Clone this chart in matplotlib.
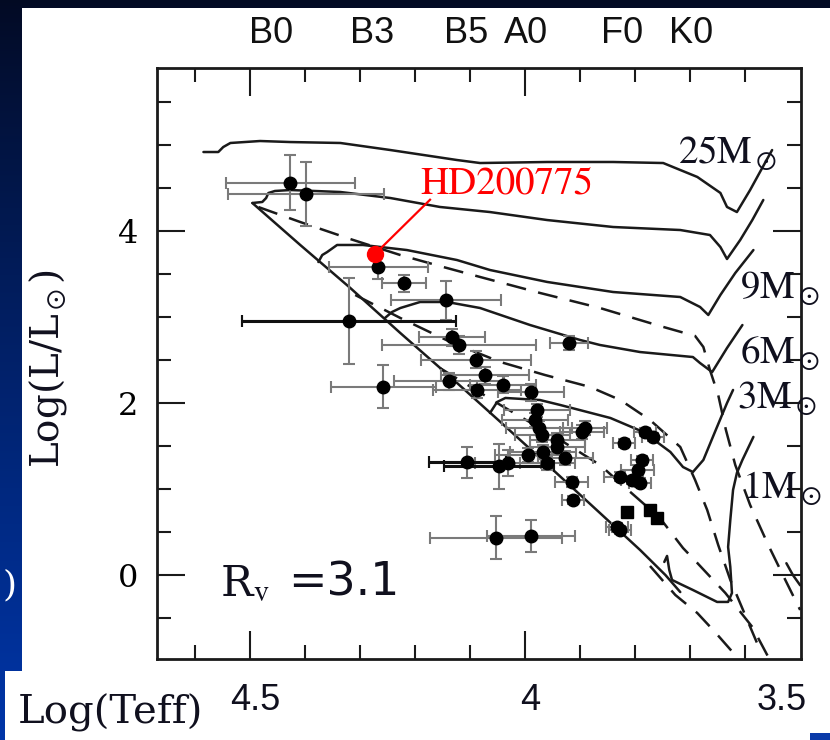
import numpy as np
import matplotlib
matplotlib.use("Agg")
import matplotlib.pyplot as plt
from matplotlib import font_manager
from matplotlib.patches import Rectangle
from matplotlib.transforms import blended_transform_factory

plt.rcParams['mathtext.fontset'] = 'stix'

# spectral types along the top axis (log Teff)
spec_types = ['B0', 'B3', 'B5', 'A0', 'F0', 'K0']
spec_logT = [4.462, 4.278, 4.107, 3.998, 3.824, 3.698]

# pre-main-sequence tracks (log Teff, log L/Lsun)
t25_T = [4.585, 4.558, 4.549, 4.536, 4.482, 4.427, 4.336, 4.245, 4.124, 4.082,
         3.960, 3.840, 3.749, 3.687, 3.645, 3.633, 3.615, 3.591, 3.573, 3.551]
t25_L = [4.915, 4.915, 4.973, 5.020, 5.043, 5.031, 5.020, 4.938, 4.822, 4.787,
         4.799, 4.799, 4.787, 4.625, 4.439, 4.276, 4.217, 4.473, 4.683, 4.938]
t15_T = [4.496, 4.478, 4.471, 4.467, 4.455, 4.427, 4.336, 4.245, 4.155, 4.064,
         3.960, 3.840, 3.718, 3.664, 3.645, 3.633, 3.609, 3.587, 3.567]
t15_L = [4.322, 4.334, 4.380, 4.438, 4.462, 4.473, 4.450, 4.380, 4.276, 4.217,
         4.124, 4.043, 4.008, 3.950, 3.810, 3.671, 3.892, 4.124, 4.357]
t9_T = [4.376, 4.369, 4.360, 4.342, 4.295, 4.215, 4.124, 4.064, 3.960, 3.840,
        3.718, 3.682, 3.667, 3.645, 3.618, 3.585]
t9_L = [3.636, 3.717, 3.752, 3.834, 3.834, 3.775, 3.659, 3.543, 3.404, 3.287,
        3.229, 3.113, 3.020, 3.253, 3.508, 3.775]
t6_T = [4.255, 4.242, 4.227, 4.191, 4.142, 4.082, 3.991, 3.900, 3.864, 3.791,
        3.695, 3.682, 3.660, 3.633, 3.605]
t6_L = [2.985, 3.055, 3.101, 3.171, 3.171, 3.101, 2.903, 2.729, 2.671, 2.589,
        2.531, 2.461, 2.356, 2.636, 2.903]
t3_T = [4.064, 4.051, 4.036, 3.973, 3.936, 3.845, 3.785, 3.736, 3.713, 3.695,
        3.676, 3.655, 3.633, 3.622]
t3_L = [1.880, 2.008, 2.055, 2.031, 1.973, 1.822, 1.659, 1.427, 1.252, 1.194,
        1.334, 1.659, 1.996, 2.148]
t1_T = [3.747, 3.742, 3.738, 3.733, 3.718, 3.695, 3.651, 3.631, 3.624, 3.627,
        3.631, 3.627, 3.622, 3.615, 3.605, 3.585]
t1_L = [0.148, 0.218, 0.055, -0.061, -0.108, -0.178, -0.317, -0.317, -0.213, 0.090,
        0.322, 0.636, 0.985, 1.183, 1.334, 1.602]
tlow_T = [3.525, 3.513, 3.500]
tlow_L = [0.133, -0.006, -0.123]

# zero age main sequence
zams_T = [4.496, 4.409, 4.318, 4.227, 4.136, 4.045, 3.955, 3.864, 3.791, 3.745, 3.718]
zams_L = [4.322, 3.834, 3.334, 2.810, 2.299, 1.776, 1.252, 0.717, 0.287, -0.004, -0.202]

# isochrones (dashed)
iso1_T = [4.485, 4.409, 4.318, 4.227, 4.149, 4.082, 3.973, 3.864, 3.755, 3.691,
          3.676, 3.664, 3.649, 3.635, 3.618, 3.591, 3.558, 3.527, 3.500]
iso1_L = [4.275, 4.101, 3.903, 3.717, 3.578, 3.462, 3.276, 3.101, 2.892, 2.776,
          2.648, 2.380, 2.090, 1.683, 1.276, 0.811, 0.345, -0.061, -0.410]
iso2_T = [4.309, 4.227, 4.136, 4.045, 3.964, 3.882, 3.827, 3.773, 3.718, 3.691,
          3.669, 3.649, 3.627, 3.600, 3.573]
iso2_L = [3.252, 2.985, 2.706, 2.473, 2.322, 2.183, 2.031, 1.799, 1.485, 1.101,
          0.752, 0.345, -0.061, -0.469, -0.876]
iso3_T = [4.155, 4.045, 3.936, 3.864, 3.813, 3.755, 3.713, 3.687, 3.636, 3.587, 3.558]
iso3_L = [2.403, 1.973, 1.566, 1.276, 0.985, 0.659, 0.310, 0.136, -0.213, -0.608, -0.957]
iso4_T = [3.773, 3.727, 3.687, 3.655, 3.615]
iso4_L = [0.101, -0.236, -0.446, -0.666, -0.957]

# stars
star_T = [4.427, 4.398, 4.320, 4.258, 4.267, 4.220, 4.144, 4.133, 4.120, 3.920,
          4.089, 4.073, 4.138, 4.087, 4.040, 3.989, 3.978, 3.982, 3.975, 3.969,
          3.942, 3.942, 3.896, 3.891, 3.995, 3.967, 3.960, 3.927, 3.915, 3.913,
          4.105, 4.047, 4.031, 4.053, 3.989, 3.820, 3.782, 3.767, 3.787, 3.795,
          3.827, 3.805, 3.791, 3.827, 3.833]
star_L = [4.555, 4.427, 2.950, 2.183, 3.580, 3.390, 3.190, 2.760, 2.670, 2.690,
          2.500, 2.320, 2.250, 2.150, 2.210, 2.120, 1.910, 1.800, 1.710, 1.620,
          1.570, 1.490, 1.660, 1.710, 1.390, 1.430, 1.300, 1.360, 1.080, 0.870,
          1.310, 1.260, 1.300, 0.430, 0.450, 1.530, 1.660, 1.600, 1.330, 1.220,
          1.140, 1.100, 1.070, 0.520, 0.550]
star_dT = [0.117, 0.142, 0.195, 0.095, 0.090, 0.040, 0.100, 0.060, 0.140, 0.035,
           0.100, 0.080, 0.100, 0.080, 0.060, 0.060, 0.060, 0.060, 0.060, 0.050,
           0.050, 0.050, 0.040, 0.040, 0.060, 0.060, 0.050, 0.050, 0.030, 0.020,
           0.070, 0.100, 0.060, 0.120, 0.080, 0.020, 0.020, 0.020, 0.020, 0.030,
           0.030, 0.020, 0.020, 0.020, 0.020]
star_dL = [0.32, 0.37, 0.50, 0.25, 0.14, 0.10, 0.23, 0.10, 0.10, 0.08,
           0.10, 0.10, 0.10, 0.10, 0.10, 0.10, 0.08, 0.08, 0.08, 0.08,
           0.08, 0.08, 0.08, 0.08, 0.08, 0.08, 0.08, 0.08, 0.06, 0.05,
           0.18, 0.26, 0.15, 0.25, 0.19, 0.05, 0.05, 0.05, 0.05, 0.05,
           0.05, 0.05, 0.05, 0.05, 0.05]
dark_bars = [2, 30, 31]

sq_T = [3.815, 3.773, 3.760]
sq_L = [0.73, 0.75, 0.66]

hd_T, hd_L = 4.273, 3.73

mass_labels = ['25', '9', '6', '3', '1']

# ---------------------------------------------------------------
W, H = 830, 740
fig = plt.figure(figsize=(W / 100, H / 100), dpi=100)

# slide background
bg = fig.add_axes([0, 0, 1, 1])
top_col = np.array([0.01, 0.04, 0.14])
bot_col = np.array([0.00, 0.21, 0.66])
t = np.linspace(0, 1, 256)[:, None]
grad = top_col + (bot_col - top_col) * t ** 0.9
bg.imshow(grad[:, None, :].repeat(2, axis=1), extent=[0, 1, 0, 1], aspect='auto')
bg.add_patch(Rectangle((22 / W, 1 - 672 / H), 1, (672 - 8) / H, color='white', lw=0))
bg.add_patch(Rectangle((5 / W, 0), 1, 1 - 672 / H + 0.001, color='white', lw=0))
bg.add_patch(Rectangle((810 / W, 0), 1, 7 / H, color='#0a3aa8', lw=0))
bg.set_xlim(0, 1)
bg.set_ylim(0, 1)
bg.axis('off')

ax = fig.add_axes([156.7 / W, 1 - 659.3 / H, 644 / W, 591.3 / H])
ax.set_xlim(4.67, 3.499)
ax.set_ylim(-0.984, 5.892)

lc = '#1a1a1a'
for T, L in [(t25_T, t25_L), (t15_T, t15_L), (t9_T, t9_L), (t6_T, t6_L),
             (t3_T, t3_L), (t1_T, t1_L), (tlow_T, tlow_L), (zams_T, zams_L)]:
    ax.plot(T, L, color=lc, lw=1.8, solid_capstyle='round', zorder=2)
for T, L in [(iso1_T, iso1_L), (iso2_T, iso2_L), (iso3_T, iso3_L), (iso4_T, iso4_L)]:
    ax.plot(T, L, color=lc, lw=1.8, ls=(0, (8, 5)), zorder=2)

ax.errorbar(star_T, star_L, xerr=star_dT, yerr=star_dL, fmt='none',
            ecolor='#7a7a7a', elinewidth=1.5, capsize=4, capthick=1.5, zorder=3)
dT = [star_T[i] for i in dark_bars]
dL = [star_L[i] for i in dark_bars]
ax.errorbar(dT, dL, xerr=[star_dT[i] for i in dark_bars], yerr=0, fmt='none',
            ecolor='#111111', elinewidth=2.2, capsize=4, capthick=1.5, zorder=3)
ax.plot(star_T, star_L, 'o', color='black', ms=9, zorder=4)
ax.plot(sq_T, sq_L, 's', color='black', ms=8.5, zorder=4)

# HD200775
ax.plot([hd_T, 4.173], [hd_L, 4.36], color='red', lw=1.6, zorder=5)
ax.plot(hd_T, hd_L, 'o', color='red', ms=11.5, zorder=6)

# ticks
ax.set_xticks([4.5, 4.0])
ax.set_xticks([4.6, 4.4, 4.3, 4.2, 4.1, 3.9, 3.8, 3.7, 3.6], minor=True)
ax.set_yticks([0, 2, 4])
ax.set_yticks([-0.5, 0.5, 1, 1.5, 2.5, 3, 3.5, 4.5, 5, 5.5], minor=True)
ax.tick_params(which='both', direction='in', top=True, right=True, color=lc, width=1.5)
ax.tick_params(which='major', length=20)
ax.tick_params(which='minor', length=10)
ax.tick_params(axis='x', labelbottom=False)
ax.tick_params(axis='y', pad=13, labelsize=23)
for lab in ax.get_yticklabels():
    lab.set_fontfamily('DejaVu Serif')
for s in ax.spines.values():
    s.set_linewidth(2)
    s.set_color(lc)

names = {f.name for f in font_manager.fontManager.ttflist}
narrow = 'Liberation Sans Narrow' if 'Liberation Sans Narrow' in names else 'Liberation Sans'
nsize = 29 if narrow == 'Liberation Sans Narrow' else 26

trans = blended_transform_factory(ax.transData, ax.transAxes)
for name, lt in zip(spec_types, spec_logT):
    ax.text(lt, 1.059, name, transform=trans, ha='center', va='center',
            fontsize=nsize, family=narrow, color='#111111')

# mass labels
tc = '#10101e'
for m, (x, y) in zip(mass_labels, [(678, 163), (740, 298), (740, 363), (737, 408), (742, 498)]):
    fig.text(x / W, 1 - y / H, m + r'M$_\odot$', fontsize=28, family='STIXGeneral',
             color=tc, ha='left', va='baseline')

fig.text(420 / W, 1 - 193 / H, 'HD200775', fontsize=28, family='STIXGeneral',
         color='red', ha='left', va='baseline')

fig.text(220 / W, 1 - 596 / H, r'R$_{\mathrm{v}}$', fontsize=31, family='DejaVu Serif',
         color=tc, ha='left', va='baseline')
fig.text(288 / W, 1 - 596 / H, '=3.1', fontsize=33, family='DejaVu Sans',
         color=tc, ha='left', va='baseline')

fig.text(48 / W, 1 - 368 / H, r'Log(L/L$_\odot$)', rotation=90, fontsize=28,
         family='DejaVu Serif', color=tc, ha='center', va='center')

fig.text(18 / W, 1 - 713 / H, 'Log(Teff)', fontsize=29, family='DejaVu Serif',
         color=tc, ha='left', va='center')
for lab, x in [('4.5', 255), ('4', 530), ('3.5', 782)]:
    fig.text(x / W, 1 - 701 / H, lab, fontsize=nsize, family=narrow,
             color=tc, ha='center', va='center')

# partly hidden slide text at the left edge
fig.text(18 / W, 1 - 585 / H, '1)', fontsize=26, family='DejaVu Serif',
         color='white', ha='right', va='center')

fig.savefig('out.png', dpi=100)
